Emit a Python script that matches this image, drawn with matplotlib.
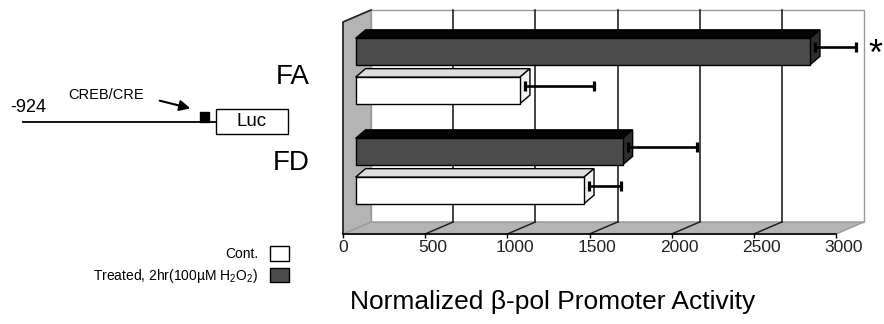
import matplotlib.pyplot as plt
from matplotlib.patches import Polygon, Rectangle, Patch

plt.rcParams['font.family'] = ['Liberation Sans', 'DejaVu Sans']
plt.rcParams['mathtext.fontset'] = 'custom'
plt.rcParams['mathtext.rm'] = 'Liberation Sans'
plt.rcParams['mathtext.default'] = 'regular'

# data
constructs = ['FA', 'FD']
cont_mean = [1000, 1390]
cont_err = [420, 195]
treated_mean = [2765, 1625]
treated_err = [250, 420]
x_ticks = [0, 500, 1000, 1500, 2000, 2500, 3000]
labels = ['Cont.', 'Treated, 2hr(100\u00b5M H$_2$O$_2$)']

W, H = 884, 324
fig = plt.figure(figsize=(W / 100, H / 100), dpi=100)

# front plane of the pseudo 3-D chart, in figure pixels
L, R, B, T = 343, 836, 234, 22
ax = fig.add_axes([L / W, 1 - B / H, (R - L) / W, (B - T) / H])
ax.set_xlim(0, 3000)
ax.set_ylim(0, B - T)          # y measured in pixels above the floor edge
ax.patch.set_visible(False)
upp = 3000 / (R - L)           # value units per pixel
top = B - T

# depth offsets
DX, DY = 28 * upp, 12          # walls / floor
BDX, BDY = 10 * upp, 8.5       # bar depth
bar_x0 = 0.45 * DX             # front face of bars sits inside the box
bar_h = 26.5
group_y = [163, 63]
pair_off = 19.4

wall_gray = '#b4b4b4'
dark = '#4b4b4b'

# back wall
ax.add_patch(Polygon([(DX, DY), (3000 + DX, DY), (3000 + DX, top + DY), (DX, top + DY)],
                     closed=True, facecolor='white', edgecolor='#9a9a9a', lw=1,
                     clip_on=False, zorder=1))
# floor
ax.add_patch(Polygon([(0, 0), (3000, 0), (3000 + DX, DY), (DX, DY)], closed=True,
                     facecolor=wall_gray, edgecolor='#9a9a9a', lw=1, clip_on=False, zorder=1))
# left wall
ax.add_patch(Polygon([(0, 0), (DX, DY), (DX, top + DY), (0, top)], closed=True,
                     facecolor=wall_gray, edgecolor='#9a9a9a', lw=1, clip_on=False, zorder=1))
ax.plot([0, 0, DX], [0, top, top + DY], color='#222222', lw=1.2, clip_on=False, zorder=2)

# grid lines on back wall and floor
for v in x_ticks[1:-1]:
    ax.plot([v + DX, v + DX], [DY, top + DY], color='#111111', lw=1.1, clip_on=False, zorder=2)
    ax.plot([v, v + DX], [0, DY], color='#222222', lw=1.1, clip_on=False, zorder=2)


def bar3d(xc, value, face, topc, side):
    y0, y1 = xc - bar_h / 2, xc + bar_h / 2
    x1 = bar_x0 + value
    ax.add_patch(Polygon([(bar_x0, y1), (x1, y1), (x1 + BDX, y1 + BDY), (bar_x0 + BDX, y1 + BDY)],
                         closed=True, facecolor=topc, edgecolor='black', lw=1,
                         clip_on=False, zorder=4))
    ax.add_patch(Polygon([(x1, y0), (x1 + BDX, y0 + BDY), (x1 + BDX, y1 + BDY), (x1, y1)],
                         closed=True, facecolor=side, edgecolor='black', lw=1,
                         clip_on=False, zorder=4))
    ax.add_patch(Rectangle((bar_x0, y0), value, bar_h, facecolor=face, edgecolor='black',
                           lw=1, clip_on=False, zorder=5))


err_x, err_y, err_v = [], [], []
for i, g in enumerate(group_y):
    bar3d(g + pair_off, treated_mean[i], dark, '#050505', '#2e2e2e')
    bar3d(g - pair_off, cont_mean[i], 'white', '#dedede', '#f2f2f2')
    for yc, m, e in [(g + pair_off, treated_mean[i], treated_err[i]),
                     (g - pair_off, cont_mean[i], cont_err[i])]:
        err_x.append(bar_x0 + m + BDX / 2)
        err_y.append(yc + BDY / 2)
        err_v.append(e)

eb = ax.errorbar(err_x, err_y, xerr=[[0] * len(err_v), err_v], fmt='none',
                 ecolor='black', elinewidth=1.9, capsize=3.8, capthick=2.3, zorder=6)
for part in eb.get_children():
    part.set_clip_on(False)

# significance mark
ax.annotate('*', xy=(err_x[0] + err_v[0], err_y[0]), xytext=(14, -6),
            textcoords='offset points', fontsize=26, ha='center', va='center',
            annotation_clip=False)

# group labels
for name, g, dy in zip(constructs, group_y, [-4, 5.5]):
    ax.annotate(name, xy=(0, g), xytext=(-24, dy), textcoords='offset points',
                fontsize=20, ha='right', va='center', annotation_clip=False)

# axis
for s in ['top', 'right', 'left']:
    ax.spines[s].set_visible(False)
ax.spines['bottom'].set_linewidth(1.2)
ax.set_yticks([])
ax.set_xticks(x_ticks)
ax.tick_params(axis='x', length=3, width=1, labelbottom=False)
# tick labels sit a little right of the ticks, as in the original
for v in x_ticks:
    shift = 0 if v == 0 else 5.5
    ax.annotate(str(v), xy=(v, 0), xytext=(shift, -10), textcoords='offset points',
                fontsize=12.5, color='#222222', ha='center', va='center',
                annotation_clip=False)
ax.set_xlabel('Normalized \u03b2-pol Promoter Activity', fontsize=19, va='center')
ax.xaxis.set_label_coords((553 - L) / (R - L), (B - 302) / (B - T))

# promoter construct sketch (figure pixel space)
deco = fig.add_axes([0, 0, 1, 1])
deco.set_xlim(0, W)
deco.set_ylim(H, 0)
deco.axis('off')
deco.plot([23, 216], [122, 122], color='black', lw=1.3)
deco.add_patch(Rectangle((200, 112), 9, 10, facecolor='black', edgecolor='black'))
deco.add_patch(Rectangle((216, 109), 72, 25, facecolor='white', edgecolor='black', lw=1))
deco.text(252, 122, 'Luc', fontsize=13.5, ha='center', va='center')
deco.text(10, 107, '-924', fontsize=13, ha='left', va='center')
deco.text(68, 95, 'CREB/CRE', fontsize=10.5, ha='left', va='center')
deco.annotate('', xy=(193, 109), xytext=(157, 100),
              arrowprops=dict(arrowstyle='-|>', color='black', lw=1.5, mutation_scale=16))

# legend
handles = [Patch(facecolor='white', edgecolor='black'), Patch(facecolor=dark, edgecolor='black')]
fig.legend(handles, labels, loc='upper right', bbox_to_anchor=(289 / W, 1 - 246 / H),
           markerfirst=False, frameon=False, fontsize=10, handlelength=1.4,
           handleheight=1.25, handletextpad=0.8, labelspacing=0.4, borderpad=0,
           borderaxespad=0)

fig.savefig('out.png', dpi=100)
